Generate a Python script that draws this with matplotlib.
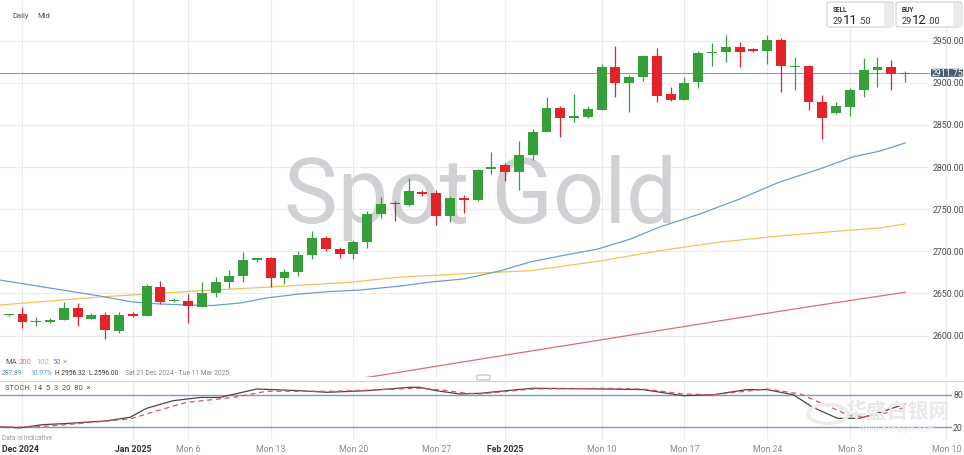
import numpy as np
import matplotlib
matplotlib.use("Agg")
import matplotlib.pyplot as plt
from matplotlib.patches import FancyBboxPatch, Rectangle, Circle

plt.rcParams['font.family'] = ['Roboto', 'Noto Sans CJK SC', 'DejaVu Sans']

# daily candles, index 0 = Sun 22 Dec 2024 (6 sessions a week, Sun-Fri)
opens = [2624.0, 2625.3, 2615.8, 2615.8, 2618.5, 2632.7, 2619.7, 2624.4, 2605.8, 2624.4,
         2623.6, 2658.0, 2641.1, 2641.4, 2634.3, 2650.2, 2663.2, 2670.4, 2689.3, 2691.7,
         2668.3, 2675.8, 2695.6, 2715.4, 2702.7, 2696.8, 2710.7, 2744.3, 2757.3, 2755.3,
         2770.0, 2768.8, 2742.2, 2762.9, 2760.3, 2797.3, 2802.4, 2793.7, 2814.2, 2841.9,
         2869.6, 2857.9, 2859.0, 2868.0, 2918.3, 2899.6, 2906.4, 2932.0, 2886.6, 2879.8,
         2900.5, 2934.9, 2936.1, 2942.0, 2940.3, 2937.6, 2950.6, 2918.6, 2920.2, 2876.7,
         2863.7, 2871.5, 2891.3, 2915.1, 2918.3, 2910.5]
highs = [2625.6, 2633.9, 2622.1, 2620.5, 2639.5, 2638.7, 2626.8, 2628.4, 2627.6, 2628.0,
         2661.2, 2665.1, 2644.3, 2649.4, 2663.9, 2669.2, 2678.2, 2698.8, 2692.0, 2692.9,
         2679.0, 2700.0, 2724.4, 2718.5, 2705.7, 2713.4, 2748.2, 2764.1, 2760.0, 2786.6,
         2773.1, 2773.1, 2766.0, 2766.8, 2798.2, 2817.4, 2804.7, 2831.2, 2845.1, 2882.7,
         2872.7, 2886.6, 2872.0, 2922.2, 2943.9, 2909.1, 2932.5, 2940.8, 2894.5, 2906.4,
         2937.2, 2947.1, 2956.3, 2948.7, 2941.2, 2956.6, 2952.7, 2930.1, 2921.0, 2885.4,
         2876.7, 2893.4, 2928.9, 2930.1, 2926.9, 2914.0]
lows = [2623.3, 2609.0, 2611.4, 2614.6, 2618.0, 2611.8, 2619.2, 2596.0, 2603.1, 2622.0,
        2623.0, 2637.5, 2640.2, 2614.9, 2634.0, 2645.4, 2656.1, 2663.9, 2686.9, 2657.3,
        2661.2, 2670.4, 2690.9, 2700.0, 2691.7, 2690.9, 2703.6, 2739.0, 2736.3, 2754.1,
        2765.3, 2731.2, 2735.1, 2745.4, 2760.0, 2791.7, 2783.8, 2773.1, 2808.7, 2841.5,
        2835.2, 2853.7, 2857.8, 2867.5, 2882.7, 2864.9, 2902.4, 2877.5, 2878.6, 2879.5,
        2893.4, 2919.5, 2924.9, 2918.3, 2937.0, 2922.2, 2888.6, 2891.7, 2868.0, 2833.2,
        2863.2, 2860.1, 2882.7, 2894.5, 2891.7, 2900.5]
closes = [2624.5, 2615.8, 2617.7, 2618.9, 2632.7, 2621.7, 2624.4, 2606.3, 2624.4, 2623.6,
          2659.2, 2640.2, 2642.6, 2634.8, 2650.2, 2663.2, 2670.4, 2690.0, 2691.7, 2668.0,
          2675.8, 2695.6, 2715.4, 2702.7, 2696.8, 2710.7, 2744.3, 2756.1, 2755.8, 2771.2,
          2767.6, 2742.2, 2762.9, 2760.5, 2796.8, 2799.6, 2794.1, 2814.2, 2841.2, 2869.6,
          2857.9, 2861.1, 2868.8, 2918.3, 2899.6, 2906.4, 2932.0, 2883.9, 2879.8, 2899.6,
          2934.9, 2936.4, 2942.0, 2936.1, 2937.6, 2950.6, 2919.5, 2920.2, 2876.7, 2857.8,
          2872.0, 2891.3, 2915.1, 2918.3, 2910.3, 2911.75]

# moving averages (candle index, price)
ma50_x = [-0.63, 3.0, 6.6, 9.0, 11.0, 12.9, 14.8, 16.8, 18.7, 21.1, 23.3, 25.5, 28.4, 30.6,
          33.0, 35.6, 37.8, 40.0, 42.7, 45.1, 47.2, 50.1, 53.0, 55.9, 58.8, 61.2, 63.2, 65.0]
ma50_y = [2665.9, 2656.4, 2647.0, 2639.8, 2637.5, 2636.3, 2635.7, 2638.7, 2644.6, 2649.4,
          2652.3, 2654.1, 2658.8, 2663.6, 2667.2, 2676.6, 2687.3, 2694.4, 2702.7, 2714.6,
          2728.8, 2744.2, 2762.0, 2782.2, 2797.6, 2811.9, 2819.0, 2828.5]
ma100_x = [-0.63, 6.6, 13.9, 19.0, 24.7, 28.4, 32.7, 37.8, 42.9, 47.2, 51.6, 55.9, 60.3, 63.2, 65.0]
ma100_y = [2636.3, 2645.8, 2653.3, 2657.7, 2663.2, 2669.5, 2673.1, 2677.0, 2688.5, 2700.7,
           2711.0, 2718.2, 2724.1, 2727.7, 2732.4]
ma200_x = [20.0, 26.2, 35.6, 42.9, 50.1, 57.4, 63.2, 65.0]
ma200_y = [2541.0, 2550.9, 2575.8, 2594.8, 2613.7, 2632.7, 2647.0, 2651.4]

# stochastic 14 5 3
k_x = [-0.63, 0.8, 2.5, 4.2, 7.1, 8.8, 10.0, 11.9, 13.9, 15.3, 18.0, 21.1, 23.1, 26.0, 29.1,
       29.8, 31.0, 32.7, 34.2, 36.1, 38.0, 43.1, 46.0, 48.9, 51.1, 53.5, 55.0, 56.9, 58.3,
       60.1, 61.7, 63.2, 65.0]
k_y = [21, 19, 25, 27, 32, 38.5, 55, 69, 75, 75, 90.6, 87.5, 84.5, 87.5, 93.7, 93.7, 87.5,
       81.4, 82.7, 87.5, 91.9, 90.6, 89.4, 78.3, 80, 89.4, 89.4, 80, 57, 36.6, 36.6, 47.7, 63]
d_x = [-0.63, 1.8, 4.2, 8.8, 10.8, 12.9, 16.3, 18.7, 23.5, 26.0, 29.8, 31.5, 33.2, 34.2,
       38.0, 43.1, 46.0, 48.9, 51.1, 55.0, 57.4, 59.6, 61.0, 62.2, 63.9, 65.0]
d_y = [20.5, 20.5, 25, 35.4, 50.7, 66, 75, 86.4, 86.4, 88.5, 92, 88.5, 82.7, 81.5, 90.6,
       91.9, 90.6, 81.5, 80, 90.6, 81.5, 57, 41.5, 39.8, 47.7, 57]

price_levels = [2600, 2650, 2700, 2750, 2800, 2850, 2900, 2950]
last_price = 2911.75
grid_idx = [1, 9, 13, 19, 25, 31, 36, 43, 49, 55, 61, 68]
grid_labels = ['Dec 2024', 'Jan 2025', 'Mon 6', 'Mon 13', 'Mon 20', 'Mon 27', 'Feb 2025',
               'Mon 10', 'Mon 17', 'Mon 24', 'Mon 3', 'Mon 10']

W, H = 964, 456
STEP, OFF = 13.79, 8.7


def ix(px):
    return (px - OFF) / STEP


def fx(px):
    return px / W


def fy(py):
    return 1 - py / H


fig = plt.figure(figsize=(W / 100, H / 100), dpi=100)
fig.patch.set_facecolor('white')

ax = fig.add_axes([0, fy(378), 1, 378 / H])
ax.set_xlim(ix(0), ix(W))
ax.set_ylim(2550.9, 2999.3)
ax.axis('off')

st = fig.add_axes([0, fy(440), 1, (440 - 382) / H])
st.set_xlim(ix(0), ix(W))
st.set_ylim(-1.5, 105.3)
st.set_xticks([])
st.set_yticks([])
for s in ['left', 'right', 'bottom']:
    st.spines[s].set_visible(False)
st.spines['top'].set_color('#d4d4d4')
st.spines['top'].set_linewidth(0.8)
st.patch.set_alpha(0)

gcol = '#ebebeb'
for g in grid_idx:
    ax.axvline(g, color=gcol, lw=0.8, zorder=0)
    st.axvline(g, color=gcol, lw=0.8, zorder=0)
for p in price_levels:
    ax.plot([ix(0), ix(928)], [p, p], color=gcol, lw=0.8, zorder=0)
    ax.text(ix(933), p, f"{p:.2f}", fontsize=6.3, color='#4a4a4a', va='center', ha='left')

# watermark
ax.text(ix(481), 2764, 'Spot Gold', fontsize=65, color='#d0d0d5', ha='center', va='center',
        fontweight='normal', zorder=1)

# moving averages
ax.plot(ma200_x, ma200_y, color='#e06b78', lw=0.9, zorder=2)
ax.plot(ma100_x, ma100_y, color='#f2c25a', lw=0.9, zorder=2)
ax.plot(ma50_x, ma50_y, color='#6a9fd0', lw=0.9, zorder=2)

# candles
o = np.array(opens)
c = np.array(closes)
idx = np.arange(len(o))
up = c >= o
cols = np.where(up, '#35a03a', '#e3232a')
ax.vlines(idx, lows, highs, colors=cols, lw=0.9, zorder=3)
bottom = np.minimum(o, c)
height = np.maximum(np.abs(c - o), 1.5)
ax.bar(idx, height, bottom=bottom, width=0.72, color=cols, zorder=4, linewidth=0)

# last price line and tag
ax.plot([ix(0), ix(929)], [last_price, last_price], color='#9a9a9a', lw=0.8, zorder=2)
ax.add_patch(FancyBboxPatch((ix(931), last_price - 4.8), ix(963) - ix(931), 9.6,
                            boxstyle='round,pad=0,rounding_size=0.3', fc='#4a5a70',
                            ec='none', zorder=5, mutation_aspect=3))
ax.text(ix(947), last_price, f"{last_price:.2f}", fontsize=6.3, color='white',
        ha='center', va='center', zorder=6)

# stochastic panel
for lvl in [80, 20]:
    st.plot([ix(0), ix(951)], [lvl, lvl], color='#7d9cc0', lw=1.0, zorder=1)
    st.text(ix(953), lvl, str(lvl), fontsize=6.3, color='#4a4a4a', va='center', ha='left')
st.plot(k_x, k_y, color='#474747', lw=0.9, zorder=3)
st.plot(d_x, d_y, color='#e0505e', lw=0.9, ls=(0, (4, 3)), zorder=3)
st.text(ix(2), 1.5, 'Data is indicative', fontsize=4.8, color='#9a9a9a', va='center')

# header
fig.text(fx(12), fy(16), 'Daily', fontsize=5.5, color='#555555', va='center')
fig.text(fx(37), fy(16), 'Mid', fontsize=5.5, color='#555555', va='center')

for bx, name, big, small in [(827, 'SELL', '11', '.50'), (896, 'BUY', '12', '.00')]:
    fig.patches.append(FancyBboxPatch((fx(bx), fy(28)), fx(66), 25 / H,
                                      boxstyle='round,pad=0,rounding_size=0.004',
                                      transform=fig.transFigure, fc='white', ec='#d0d0d0',
                                      lw=0.8))
    fig.patches.append(Rectangle((fx(bx + 57), fy(27.5)), fx(8.5), 24 / H,
                                 transform=fig.transFigure, fc='#e9ebee', ec='none'))
    fig.text(fx(bx + 6), fy(10), name, fontsize=4.8, color='#333333', va='center',
             fontweight='bold')
    fig.text(fx(bx + 6), fy(24), '29', fontsize=6.5, color='#333333', va='baseline')
    fig.text(fx(bx + 15.5), fy(24), big, fontsize=9.5, color='#222222', va='baseline')
    fig.text(fx(bx + 31.5), fy(24), small, fontsize=6.5, color='#333333', va='baseline')

# legends
fig.text(fx(5), fy(362), 'MA', fontsize=5.5, color='#555555', va='center')
fig.text(fx(19), fy(362), '200', fontsize=5.5, color='#e06b78', va='center')
fig.text(fx(36), fy(362), '100', fontsize=5.5, color='#eaa830', va='center')
fig.text(fx(52), fy(362), '50', fontsize=5.5, color='#5b92c8', va='center')
fig.text(fx(63), fy(362), '\u00d7', fontsize=5.5, color='#999999', va='center')
fig.text(fx(2), fy(374), '287.89', fontsize=4.9, color='#5b92c8', va='center')
fig.text(fx(30), fy(374), '10.97%', fontsize=4.9, color='#5b92c8', va='center')
fig.text(fx(55), fy(374), 'H 2956.32', fontsize=4.9, color='#333333', va='center')
fig.text(fx(89), fy(374), 'L 2596.00', fontsize=4.9, color='#333333', va='center')
fig.text(fx(125), fy(374), 'Sat 21 Dec 2024 - Tue 11 Mar 2025', fontsize=4.9,
         color='#888888', va='center')
fig.text(fx(5), fy(388), 'STOCH  14  5  3  20  80  \u00d7', fontsize=5.5, color='#555555',
         va='center')
fig.patches.append(FancyBboxPatch((fx(477), fy(381)), fx(13), 5 / H,
                                  boxstyle='round,pad=0,rounding_size=0.002',
                                  transform=fig.transFigure, fc='white', ec='#aaaaaa', lw=0.6))

# x labels
for g, lab in zip(grid_idx, grid_labels):
    bold = lab.endswith('2024') or lab.endswith('2025')
    xp = OFF + g * STEP
    if lab == 'Dec 2024':
        fig.text(fx(2), fy(450), lab, fontsize=6.3, color='#333333', va='center',
                 ha='left', fontweight='bold')
    else:
        fig.text(fx(xp), fy(450), lab, fontsize=6.3, color='#333333' if bold else '#8a8a8a',
                 va='center', ha='center', fontweight='bold' if bold else 'normal')

# site watermark
fig.patches.append(Circle((fx(828), fy(415)), 20 / W, transform=fig.transFigure,
                          fc='none', ec='#ececec', lw=2.5))
fig.text(fx(898), fy(412), '华盛白银网', fontsize=15, color='#e9e9e9', ha='center',
         va='center', fontweight='bold')
fig.text(fx(898), fy(430), 'www.hsbaiyin.com', fontsize=6.5, color='#ececec', ha='center',
         va='center')

fig.savefig('out.png', dpi=100)
